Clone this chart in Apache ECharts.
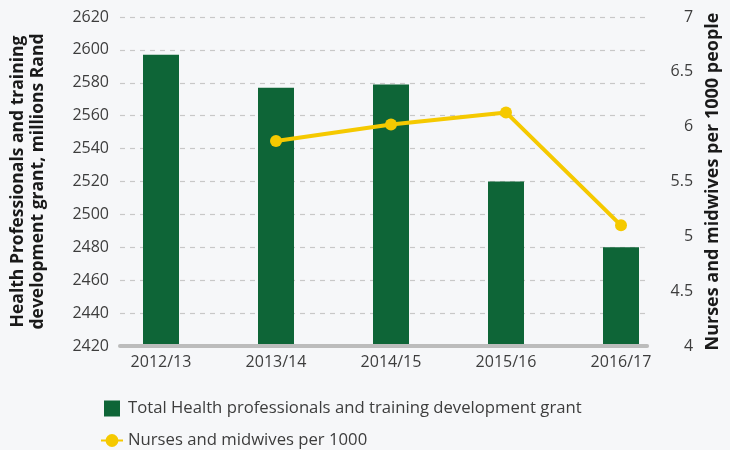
<!DOCTYPE html>
<html>
<head>
<meta charset="utf-8">
<script src="https://cdn.jsdelivr.net/npm/echarts@6/dist/echarts.min.js"></script>
<style>
html,body{margin:0;padding:0;background:#f6f7f9;}
#c{width:730px;height:450px;}
</style>
</head>
<body>
<div id="c"></div>
<script>
const categories = ['2012/13', '2013/14', '2014/15', '2015/16', '2016/17'];
const grantValues = [2597, 2577, 2579, 2520, 2480];
const nursesValues = ['-', 5.87, 6.02, 6.13, 5.10];
const barName = 'Total Health professionals and training development grant';
const lineName = 'Nurses and midwives per 1000';
const leftAxisName = 'Health Professionals and training\ndevelopment grant, millions Rand';
const rightAxisName = 'Nurses and midwives per 1000 people';

const FONT = 'Open Sans';
const TXT = '#3d3d3d';

const chart = echarts.init(document.getElementById('c'), null, {renderer: 'canvas'});
chart.setOption({
  backgroundColor: '#f6f7f9',
  animation: false,
  textStyle: {fontFamily: FONT},
  grid: [
    {left: 118, right: 72, top: 17, bottom: 104},
    {left: 103.5, right: 51.5, top: 17, bottom: 104}
  ],
  legend: {
    orient: 'vertical',
    left: 100,
    top: 400,
    height: 80,
    padding: 0,
    itemWidth: 22,
    itemHeight: 16,
    itemGap: 15,
    textStyle: {fontFamily: FONT, fontSize: 16.7, color: TXT},
    data: [
      {name: barName, icon: 'path://M0,0h16v16h-16z'},
      {name: lineName}
    ]
  },
  xAxis: [
    {
      gridIndex: 0, type: 'category', data: categories, z: 5,
      axisLine: {show: true, lineStyle: {color: '#bcbcbc', width: 4}},
      axisTick: {show: false}, axisLabel: {show: false}, splitLine: {show: false}
    },
    {
      gridIndex: 1, type: 'category', data: categories, boundaryGap: true,
      axisLine: {show: false}, axisTick: {show: false}, splitLine: {show: false},
      axisLabel: {interval: 0, margin: 8, fontSize: 16, color: TXT, fontFamily: FONT}
    }
  ],
  yAxis: [
    {
      gridIndex: 0, type: 'value', position: 'left', min: 2420, max: 2620, interval: 20,
      name: leftAxisName, nameLocation: 'middle', nameRotate: 90, nameGap: 72,
      nameTextStyle: {fontFamily: FONT, fontSize: 17.5, fontWeight: 'bold', color: '#1a1a1a', lineHeight: 20, align: 'center'},
      axisLine: {show: false}, axisTick: {show: false},
      axisLabel: {fontSize: 16, color: TXT, margin: 11, fontFamily: FONT, formatter: v => String(v)},
      splitLine: {show: true, lineStyle: {color: '#c8c8c8', type: [5, 5], width: 1.2}}
    },
    {
      gridIndex: 0, type: 'value', position: 'right', min: 4, max: 7, interval: 0.5,
      name: rightAxisName, nameLocation: 'middle', nameRotate: 90, nameGap: 56,
      nameTextStyle: {fontFamily: FONT, fontSize: 18, fontWeight: 'bold', color: '#1a1a1a'},
      axisLine: {show: false}, axisTick: {show: false},
      axisLabel: {fontSize: 16, color: TXT, margin: 46, align: 'right', fontFamily: FONT},
      splitLine: {show: false}
    },
    {gridIndex: 1, type: 'value', min: 2420, max: 2620, show: false, splitLine: {show: false}},
    {gridIndex: 1, type: 'value', min: 4, max: 7, show: false, splitLine: {show: false}}
  ],
  series: [
    {
      name: barName, type: 'bar', xAxisIndex: 1, yAxisIndex: 2,
      data: grantValues, barWidth: 36,
      itemStyle: {color: '#0e6537'}
    },
    {
      name: lineName, type: 'line', xAxisIndex: 1, yAxisIndex: 3,
      data: nursesValues, clip: false, z: 10,
      symbol: 'circle', symbolSize: 12, showAllSymbol: true,
      itemStyle: {color: '#f5c900'},
      lineStyle: {color: '#f5c900', width: 4}
    }
  ]
});
</script>
</body>
</html>
